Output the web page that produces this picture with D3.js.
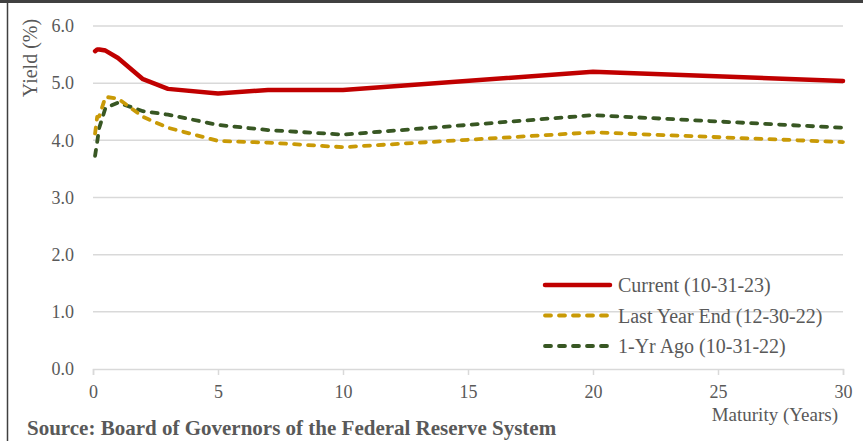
<!DOCTYPE html>
<html>
<head>
<meta charset="utf-8">
<script src="https://cdn.jsdelivr.net/npm/d3@7"></script>
<style>
  body { margin: 0; background: #fff; }
  text { font-family: "Liberation Serif", "DejaVu Serif", serif; fill: #595959; }
</style>
</head>
<body>
<div id="chart"></div>
<script>
const WIDTH = 863;
const HEIGHT = 441;

// maturities in years: 1m, 2m, 3m, 6m, 1y, 2y, 3y, 5y, 7y, 10y, 20y, 30y
const maturities = [1 / 12, 2 / 12, 3 / 12, 0.5, 1, 2, 3, 5, 7, 10, 20, 30];
const current = [5.56, 5.59, 5.59, 5.57, 5.44, 5.07, 4.90, 4.82, 4.88, 4.88, 5.20, 5.04];
const lastYearEnd = [4.12, 4.41, 4.42, 4.76, 4.73, 4.41, 4.22, 3.99, 3.96, 3.88, 4.14, 3.97];
const yearAgo = [3.73, 3.97, 4.22, 4.57, 4.66, 4.51, 4.45, 4.27, 4.18, 4.10, 4.44, 4.22];

const seriesNames = ["Current (10-31-23)", "Last Year End (12-30-22)", "1-Yr Ago (10-31-22)"];
const xTicks = [0, 5, 10, 15, 20, 25, 30];
const yTicks = [0, 1, 2, 3, 4, 5, 6];

const series = [
    { name: seriesNames[0], values: current, color: "#c00000", width: 4.5, dash: null },
    { name: seriesNames[1], values: lastYearEnd, color: "#c99a06", width: 3.8, dash: "6,8" },
    { name: seriesNames[2], values: yearAgo, color: "#385723", width: 3.8, dash: "6,8" }
];

const svg = d3.select("#chart")
    .append("svg")
    .attr("width", WIDTH)
    .attr("height", HEIGHT);

// frame pieces
svg.append("rect").attr("x", 0).attr("y", 0).attr("width", WIDTH).attr("height", 3).attr("fill", "#404040");
svg.append("line").attr("x1", 7.5).attr("x2", 7.5).attr("y1", 0).attr("y2", HEIGHT)
    .attr("stroke", "#404040").attr("stroke-width", 1.5);

const x = d3.scaleLinear().domain([0, 30]).range([93, 843]);
const y = d3.scaleLinear().domain([0, 6]).range([369, 26]);

// gridlines
svg.append("g")
    .selectAll("line")
    .data(yTicks.filter(d => d > 0))
    .enter()
    .append("line")
    .attr("x1", x(0))
    .attr("x2", x(30))
    .attr("y1", d => y(d))
    .attr("y2", d => y(d))
    .attr("stroke", "#d9d9d9")
    .attr("stroke-width", 1.5);

// x axis
const xAxis = svg.append("g")
    .attr("transform", `translate(0, ${y(0)})`)
    .call(d3.axisBottom(x).tickValues(xTicks).tickSize(6).tickPadding(10).tickFormat(d3.format("d")));
xAxis.select(".domain").attr("stroke", "#d9d9d9").attr("stroke-width", 1.5);
xAxis.selectAll(".tick line").attr("stroke", "#d9d9d9").attr("stroke-width", 1.5);
xAxis.selectAll("text").style("font-size", "18px").attr("fill", "#595959")
    .style("font-family", "Liberation Serif, serif");

// y axis labels
svg.append("g")
    .selectAll("text")
    .data(yTicks)
    .enter()
    .append("text")
    .attr("x", 74)
    .attr("y", d => y(d))
    .attr("dy", "0.35em")
    .attr("text-anchor", "end")
    .style("font-size", "18px")
    .text(d => d3.format(".1f")(d));

svg.append("text")
    .attr("transform", "translate(37, 58) rotate(-90)")
    .attr("text-anchor", "middle")
    .style("font-size", "20px")
    .text("Yield (%)");

svg.append("text")
    .attr("x", 838)
    .attr("y", 421)
    .attr("text-anchor", "end")
    .style("font-size", "19px")
    .text("Maturity (Years)");

svg.append("text")
    .attr("x", 27)
    .attr("y", 435)
    .style("font-size", "21px")
    .style("font-weight", "bold")
    .text("Source:  Board of Governors of the Federal Reserve System");

// lines
const line = d3.line()
    .x(d => x(d[0]))
    .y(d => y(d[1]));

// draw older series first so the current curve sits on top
series.slice().reverse().forEach(s => {
    svg.append("path")
        .datum(maturities.map((m, i) => [m, s.values[i]]))
        .attr("fill", "none")
        .attr("stroke", s.color)
        .attr("stroke-width", s.width)
        .attr("stroke-dasharray", s.dash)
        .attr("stroke-linecap", "round")
        .attr("stroke-linejoin", "round")
        .attr("d", line);
});

// legend
const legend = svg.append("g");
series.forEach((s, i) => {
    const ly = 285 + i * 30.5;
    legend.append("line")
        .attr("x1", 545)
        .attr("x2", 610)
        .attr("y1", ly)
        .attr("y2", ly)
        .attr("stroke", s.color)
        .attr("stroke-width", s.width)
        .attr("stroke-dasharray", s.dash)
        .attr("stroke-linecap", "round");
    legend.append("text")
        .attr("x", 618)
        .attr("y", ly)
        .attr("dy", "0.35em")
        .style("font-size", "20px")
        .text(s.name);
});
</script>
</body>
</html>
